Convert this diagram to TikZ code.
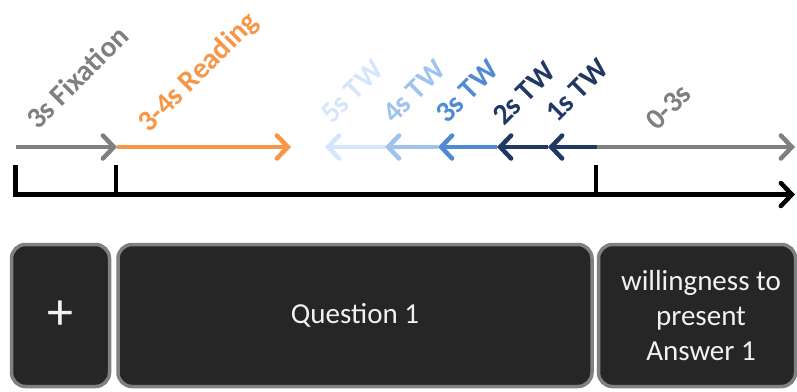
\documentclass[tikz,border=0pt]{standalone}
\usepackage{fontspec}
\setmainfont{Carlito}
\usetikzlibrary{arrows.meta}

\definecolor{tgray}{HTML}{7F7F7F}
\definecolor{torange}{HTML}{F79646}
\definecolor{boxfill}{HTML}{262626}
\definecolor{boxline}{HTML}{808080}
\definecolor{twone}{HTML}{1F3864}
\definecolor{twtwo}{HTML}{1F3864}
\definecolor{twthree}{HTML}{4F8AD2}
\definecolor{twfour}{HTML}{9DC3EE}
\definecolor{twfive}{HTML}{D5E6FA}

\tikzset{
  lbl/.style={rotate=45, anchor=base west, inner sep=0pt,
    font=\fontsize{29.5}{35}\selectfont\bfseries},
  seg/.style={line width=4.5pt, -{Straight Barb[length=11pt,width=23pt,line cap=round]}},
  screen/.style={draw=boxline, fill=boxfill, line width=3.5pt, rounded corners=14pt,
    text=white!95!black, align=center, minimum height=142pt,
    font=\fontsize{29}{35}\selectfont},
}

\begin{document}
\begin{tikzpicture}[x=1pt,y=-1pt]
      \useasboundingbox (0,0) rectangle (797,391);
      % points along the arrow row
      \coordinate (p0) at (16,147);
      \coordinate (p1) at (117,147);
      \coordinate (p2) at (291,147);
      \coordinate (p3) at (597,147);
      \coordinate (p4) at (795,147);
      \draw[seg,tgray] (p0) -- (p1);
      \draw[seg,torange] (p1) -- (p2);
      \draw[seg,tgray] (p3) -- (p4);
      % time windows, backwards from the answer
      \foreach \xa/\xb/\col in {385/325/twfive, 438/385/twfour, 497/438/twthree,
                                548/497/twtwo, 597/548/twone} {
        \coordinate (a\xa) at (\xa,147);
        \coordinate (b\xa) at (\xb,147);
        \draw[seg,\col] (a\xa) -- (b\xa);
      }
      \node[lbl,tgray] (fix) at (38,131) {3s Fixation};
      \node[lbl,torange] (read) at (149,134) {3-4s Reading};
      \node[lbl,twfive] (tw5) at (332,125) {5s TW};
      \node[lbl,twfour] (tw4) at (394,125) {4s TW};
      \node[lbl,twthree] (tw3) at (447,125) {3s TW};
      \node[lbl,twtwo] (tw2) at (504,127) {2s TW};
      \node[lbl,twone] (tw1) at (557,124) {1s TW};
      \node[lbl,tgray] (rest) at (657,132) {0-3s};
      % time axis
      \coordinate (t0) at (15.5,165);
      \coordinate (t1) at (15.5,194.5);
      \coordinate (t2) at (795,194.5);
      \path[draw,line width=4.5pt,-{Straight Barb[length=11pt,width=23pt,line cap=round]}]
        (t0) -- (t1) -- (t2);
      \foreach \xt [count=\i] in {115.5,596} {
        \coordinate (u\i) at (\xt,165);
        \coordinate (v\i) at (\xt,194.5);
        \path[draw,line width=4pt] (u\i) -- (v\i);
      }
      % screens
      \node[screen,minimum width=98pt] (cross) at (60.5,315.5)
        {\raisebox{-9pt}{\fontsize{52}{52}\selectfont +}};
      \node[screen,minimum width=474pt] (quest) at (355,315.5)
        {\raisebox{-4pt}{Question 1}};
      \node[screen,minimum width=197pt] (answer) at (697,315.5)
        {\hspace*{8pt}willingness to\\\hspace*{8pt}present\\\hspace*{8pt}Answer 1};
    \end{tikzpicture}
\end{document}
